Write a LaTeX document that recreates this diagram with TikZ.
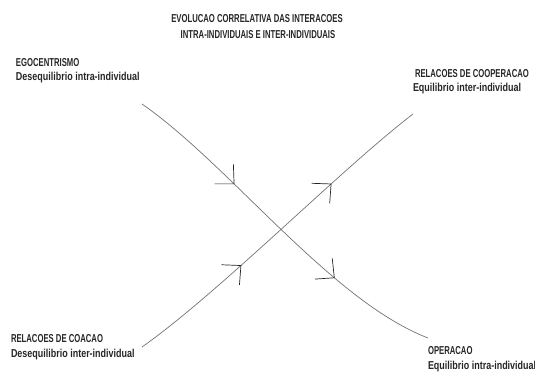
\documentclass[tikz,border=0pt]{standalone}
\usepackage{fontspec}
\setmainfont{Liberation Sans}[FakeStretch=0.78]
\newfontfamily\capsfnt{Liberation Sans}[FakeStretch=0.67]
\usetikzlibrary{arrows.meta,decorations.markings}
\begin{document}
\begin{tikzpicture}[x=1pt,y=-1pt,
  lbl/.style={inner sep=0pt,outer sep=0pt,font=\fontsize{11.5}{13}\selectfont\bfseries,text=black!85},
  capslbl/.style={lbl,font=\capsfnt\fontsize{11.5}{13}\selectfont\bfseries},
  flow/.style={line width=0.7pt,draw=black!55},
  tipmark/.style={postaction={decorate,decoration={markings,
     mark=at position #1 with {\arrow[black!85,line width=0.7pt]{Straight Barb[length=14pt,width=27pt]}}}}},
]
\useasboundingbox (0,0) rectangle (535,375);
% titles
\node[capslbl,anchor=base] (t1) at (257,22) {EVOLUCAO CORRELATIVA DAS INTERACOES};
\node[capslbl,anchor=base] (t2) at (258,38) {INTRA-INDIVIDUAIS E INTER-INDIVIDUAIS};
% corner labels
\node[capslbl,anchor=base west] (ego) at (16,66) {EGOCENTRISMO};
\node[lbl,anchor=base west] (egos) at (16,80) {Desequilibrio intra-individual};
\node[capslbl,anchor=base west] (coop) at (415,77) {RELACOES DE COOPERACAO};
\node[lbl,anchor=base west] (coops) at (413,91) {Equilibrio inter-individual};
\node[capslbl,anchor=base west] (coa) at (11,342) {RELACOES DE COACAO};
\node[lbl,anchor=base west] (coas) at (11,357) {Desequilibrio inter-individual};
\node[capslbl,anchor=base west] (op) at (428,354) {OPERACAO};
\node[lbl,anchor=base west] (ops) at (428,369) {Equilibrio intra-individual};
% curve end points
\coordinate (a1) at (142,104);
\coordinate (a2) at (428,338);
\coordinate (b1) at (142,347);
\coordinate (b2) at (413,114);
\draw[flow,tipmark=0.33,tipmark=0.70] (a1) .. controls (230,165) and (330,300) .. (a2);
\draw[flow,tipmark=0.36,tipmark=0.70] (b1) .. controls (220,292) and (340,170) .. (b2);
\end{tikzpicture}
\end{document}
